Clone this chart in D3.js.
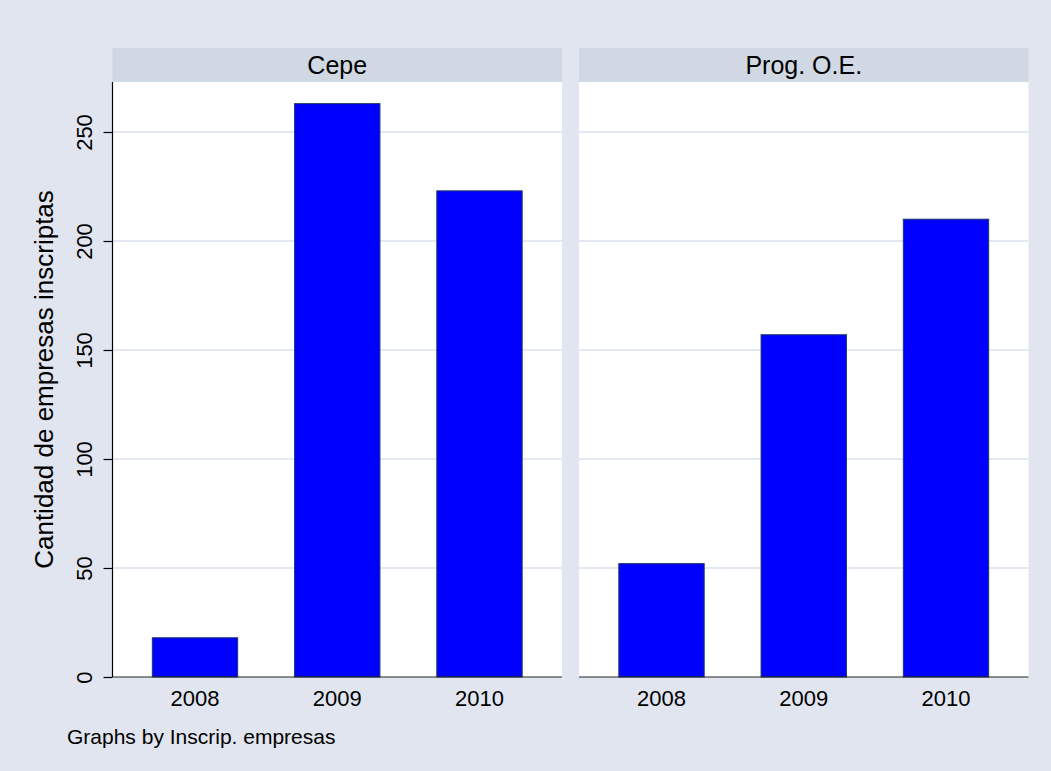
<!DOCTYPE html>
<html>
<head>
<meta charset="utf-8">
<script src="https://cdn.jsdelivr.net/npm/d3@7"></script>
<style>
	body { margin: 0; background: #ffffff; }
	text { font-family: "Liberation Sans", Arial, sans-serif; fill: #000; }
</style>
</head>
<body>
<svg id="chart" width="1051" height="771"></svg>
<script>
var years = ['2008', '2009', '2010'];
var panels = ['Cepe', 'Prog. O.E.'];
var cepeValues = [18, 263, 223];
var progValues = [52, 157, 210];
var yTicks = [0, 50, 100, 150, 200, 250];
var yTitle = 'Cantidad de empresas inscriptas';
var noteText = 'Graphs by Inscrip. empresas';

var svg = d3.select('#chart');
var width = +svg.attr('width');
var height = +svg.attr('height');

var plotTop = 82, plotBottom = 677, headerTop = 48;
var panelX = [[112.5, 562], [579, 1028.5]];
var series = [cepeValues, progValues];

svg.append('rect')
	.attr('width', width)
	.attr('height', height)
	.attr('fill', '#e0e5ef');

var y = d3.scaleLinear().domain([0, 250]).range([677, 132]);

panels.forEach(function(name, i) {
	var x0 = panelX[i][0], x1 = panelX[i][1];
	var x = d3.scaleBand().domain(years).range([x0, x1])
		.paddingInner(0.4).paddingOuter(0.28);
	var g = svg.append('g');

	// header strip
	g.append('rect')
		.attr('x', x0).attr('y', headerTop)
		.attr('width', x1 - x0).attr('height', plotTop - headerTop)
		.attr('fill', '#d0d8e3');
	g.append('text')
		.attr('x', (x0 + x1) / 2).attr('y', (headerTop + plotTop) / 2)
		.attr('dy', '0.36em')
		.attr('text-anchor', 'middle')
		.style('font-size', '25px')
		.text(name);

	// plot area
	g.append('rect')
		.attr('x', x0).attr('y', plotTop)
		.attr('width', x1 - x0).attr('height', plotBottom - plotTop)
		.attr('fill', '#ffffff');

	// gridlines
	g.selectAll('.grid')
		.data(yTicks.filter(function(d) { return d > 0; }))
		.enter().append('line')
		.attr('class', 'grid')
		.attr('x1', x0).attr('x2', x1)
		.attr('y1', function(d) { return y(d); })
		.attr('y2', function(d) { return y(d); })
		.attr('stroke', '#e3e8f2')
		.attr('stroke-width', 2);

	// bars
	g.selectAll('.bar')
		.data(series[i])
		.enter().append('rect')
		.attr('class', 'bar')
		.attr('x', function(d, j) { return x(years[j]); })
		.attr('y', function(d) { return y(d); })
		.attr('width', x.bandwidth())
		.attr('height', function(d) { return y(0) - y(d); })
		.attr('fill', '#0000ff')
		.attr('stroke', '#1c3766')
		.attr('stroke-width', 1);

	// x axis (no ticks)
	var xAxis = g.append('g')
		.attr('transform', 'translate(0,' + plotBottom + ')')
		.call(d3.axisBottom(x).tickSize(0).tickPadding(13));
	xAxis.select('.domain').attr('stroke', '#222').attr('stroke-width', 1.2)
		.attr('d', 'M' + x0 + ',0H' + x1);
	xAxis.selectAll('text')
		.style('font-size', '22px')
		.attr('fill', '#000')
		.attr('dy', '0.71em');

	if (i == 0) {
		var yAxis = g.append('g')
			.attr('transform', 'translate(' + x0 + ',0)')
			.call(d3.axisLeft(y).tickValues(yTicks).tickSize(9).tickPadding(6));
		yAxis.select('.domain').attr('stroke', '#000').attr('stroke-width', 1.2)
			.attr('d', 'M0,' + plotTop + 'V' + plotBottom);
		yAxis.selectAll('.tick line').attr('stroke', '#000').attr('stroke-width', 1.2);
		yAxis.selectAll('.tick text')
			.style('font-size', '22px')
			.attr('fill', '#000')
			.attr('text-anchor', 'middle')
			.attr('x', null).attr('dy', null)
			.attr('transform', 'translate(-20.5,0) rotate(-90)');
	}
});

// y title
svg.append('text')
	.attr('transform', 'translate(53,' + (plotTop + plotBottom) / 2 + ') rotate(-90)')
	.attr('text-anchor', 'middle')
	.style('font-size', '26px')
	.text(yTitle);

// note
svg.append('text')
	.attr('x', 67).attr('y', 744)
	.style('font-size', '21px')
	.text(noteText);
</script>
</body>
</html>
